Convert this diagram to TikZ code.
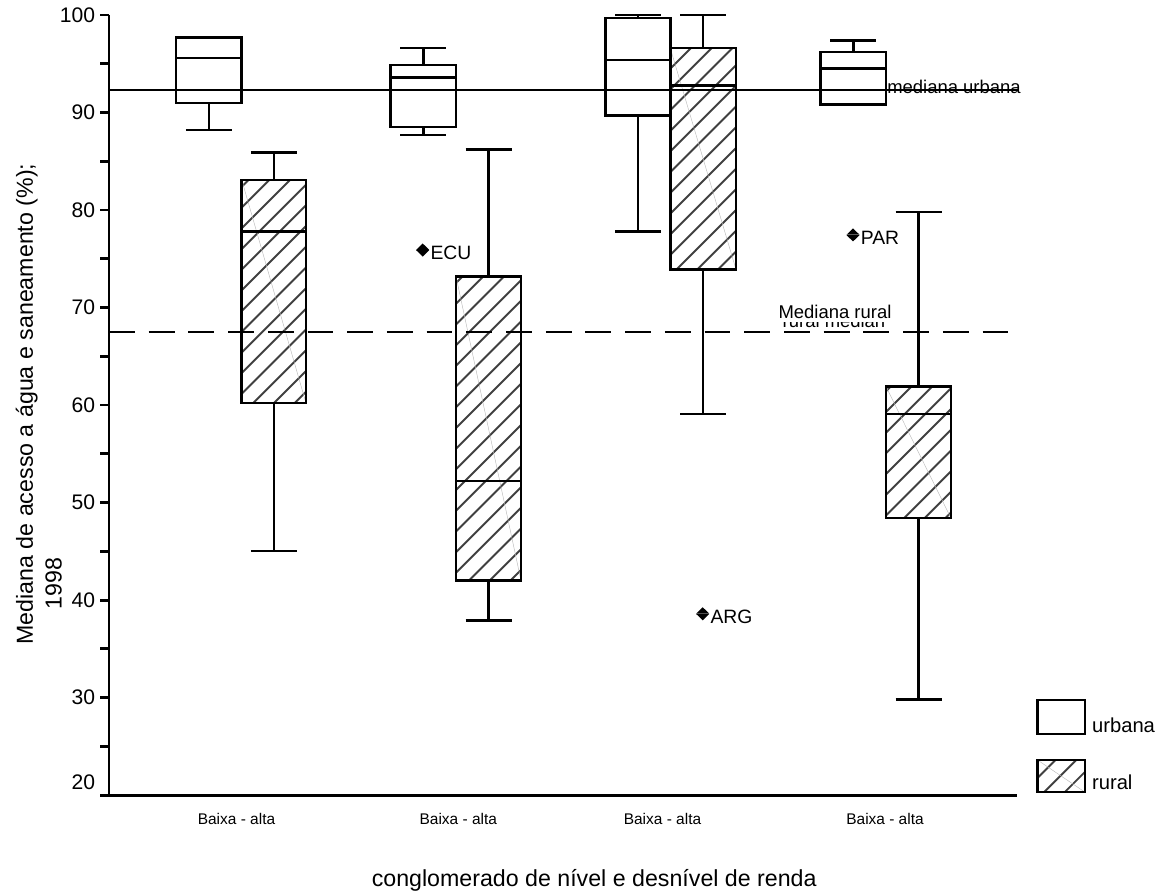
\documentclass[tikz,border=0pt]{standalone}
\usepackage{fontspec}
\setmainfont{Liberation Sans}
\usepackage{tikz}
\usetikzlibrary{calc}
\tikzset{
	axisline/.style={line width=1.6pt},
	boxline/.style={line width=1.4pt},
	hatchline/.style={line width=1.1pt, black!75},
	ghostline/.style={line width=0.25pt, gray!55},
	ticklabel/.style={anchor=east, inner sep=0pt, font=\fontsize{12}{14}\selectfont},
	catlabel/.style={anchor=base, inner sep=0pt, font=\fontsize{8.8}{10}\selectfont},
	reflabel/.style={inner sep=0pt, font=\fontsize{10.5}{12}\selectfont},
	titlelabel/.style={inner sep=0pt, font=\fontsize{13.2}{15}\selectfont}
}

\begin{document}
\begin{tikzpicture}[
		x=0.02cm, y=0.19508cm,
		outlabel/.style={anchor=base west, inner sep=0pt, font=\fontsize{11}{13}\selectfont},
		legendlabel/.style={anchor=base west, inner sep=0pt, font=\fontsize{11.5}{13}\selectfont},
		]
		\useasboundingbox (0,9.883) rectangle (1165,101.538);
		
		%% -- Hatching of the rural boxes and of the legend key
		\begin{scope}
			\clip (241.7,60.2) rectangle (306,83.1)
			(456,42.0) rectangle (521,73.2)
			(670.3,73.9) rectangle (736,96.6)
			(886,48.4) rectangle (951,61.9)
			(1037.3,20.31) rectangle (1085,23.62);
			\foreach \k in {0,...,100}
			\draw[hatchline] (-900+\k*20.7,9.883) -- ++(20cm,20cm);
		\end{scope}
		\draw[ghostline] (241.7,83.1) -- (306,60.2);
		\draw[ghostline] (456,73.2) -- (521,42.0);
		\draw[ghostline] (670.3,96.6) -- (736,73.9);
		\draw[ghostline] (886,61.9) -- (951,48.4);
		\draw[ghostline] (1037.3,23.62) -- (1085,20.31);
		
		%% -- Box plots: left, right, centre, min, Q1, median, Q3, max
		\foreach \xl/\xr/\xm/\lo/\qa/\md/\qb/\hi in {
			176/241.7/208.8/88.2/91.0/95.6/97.7/97.7,
			241.7/306/273.8/45.05/60.2/77.8/83.1/85.9,
			390.7/456/423.3/87.7/88.5/93.6/94.9/96.6,
			456/521/488.5/37.9/42.0/52.2/73.2/86.2,
			605.7/670.3/638/77.8/89.7/95.4/99.7/100,
			670.3/736/703.2/59.1/73.9/92.75/96.6/100,
			820.5/886/853.3/90.8/90.8/94.5/96.2/97.4,
			886/951/918.5/29.8/48.4/59.1/61.9/79.8}
		{
			\draw[boxline] (\xl,\qa) rectangle (\xr,\qb);
			\draw[boxline] (\xl,\md) -- (\xr,\md);
			\draw[boxline] (\xm,\qa) -- (\xm,\lo) (\xm-23,\lo) -- (\xm+23,\lo);
			\draw[boxline] (\xm,\qb) -- (\xm,\hi) (\xm-23,\hi) -- (\xm+23,\hi);
		}
		
		%% -- Outliers
		\foreach \xo/\vo/\tag in {422.7/75.9/ECU, 702.7/38.6/ARG, 853/77.45/PAR} {
			\fill (\xo-6.5,\vo+0.02) -- (\xo,\vo+0.67) -- (\xo+6.5,\vo+0.02) -- cycle;
			\fill (\xo-6.5,\vo-0.02) -- (\xo,\vo-0.67) -- (\xo+6.5,\vo-0.02) -- cycle;
			\node[outlabel] (out\tag) at (\xo+7.5,\vo-0.95) {\tag};
		}
		
		%% -- Axes and ticks
		\draw[axisline] (109,100) -- (109,19.93) -- (1017,19.93);
		\foreach \v in {20,25,...,100}
		\draw[axisline] (100,\v) -- (109,\v);
		\foreach \v in {30,40,...,100}
		\node[ticklabel] (tick\v) at (95.5,\v) {\v};
		\node[ticklabel] (tick20) at (95.5,21.3) {20};
		
		%% -- Reference medians
		\node[reflabel, anchor=base] (ruralmedian) at (834,68.0) {rural median};
		\node[reflabel, anchor=base, fill=white, text depth=2pt] (medrural) at (835,68.9) {Mediana rural};
		\draw[boxline, dash pattern=on 14.7pt off 7.9pt] (109,67.49) -- (1015,67.49);
		\draw[boxline] (109,92.31) -- (1019,92.31);
		\node[reflabel, anchor=base west] (medurbana) at (887,91.9) {mediana urbana};
		
		%% -- Category labels and titles
		\node[catlabel] (cat1) at (236.5,16.96) {Baixa - alta};
		\node[catlabel] (cat2) at (458.3,16.96) {Baixa - alta};
		\node[catlabel] (cat3) at (662.5,16.96) {Baixa - alta};
		\node[catlabel] (cat4) at (885,16.96) {Baixa - alta};
		\node[titlelabel, anchor=base] (xtitle) at (594.2,10.63)
		{conglomerado de nível e desnível de renda};
		\node[titlelabel, rotate=90, anchor=base west] (ytitle) at (33,35.41)
		{Mediana de acesso a água e saneamento (\%);};
		\node[titlelabel, rotate=90, anchor=base west] (yyear) at (61.7,39.0) {1998};
		
		%% -- Legend
		\draw[boxline] (1037.3,26.25) rectangle (1085,29.77);
		\draw[boxline] (1037.3,20.31) rectangle (1085,23.62);
		\node[legendlabel] (legurbana) at (1091.7,26.42) {urbana};
		\node[legendlabel] (legrural) at (1091.7,20.54) {rural};
		
	\end{tikzpicture}
\end{document}
